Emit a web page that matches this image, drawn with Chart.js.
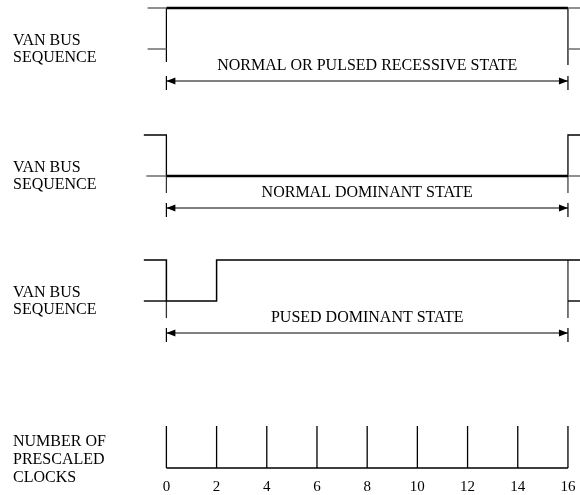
<!DOCTYPE html>
<html>
<head>
<meta charset="utf-8">
<script src="https://cdn.jsdelivr.net/npm/chart.js@4"></script>
<style>
  body { margin: 0; background: #fff; }
  #wrap { width: 580px; height: 495px; }
</style>
</head>
<body>
<div id="wrap"><canvas id="busChart"></canvas></div>
<script>
// clock axis
const clockTicks = [0, 2, 4, 6, 8, 10, 12, 14, 16];

// row labels and state names
const rowLabels = [["VAN BUS", "SEQUENCE"], ["VAN BUS", "SEQUENCE"], ["VAN BUS", "SEQUENCE"]];
const clockLabel = ["NUMBER OF", "PRESCALED", "CLOCKS"];
const stateLabels = ["NORMAL OR PULSED RECESSIVE STATE", "NORMAL DOMINANT STATE", "PUSED DOMINANT STATE"];

// waveforms: time (in prescaled clocks) and level (1 = high, 0 = low)
const recessiveTimes = [0, 16];
const recessiveLevels = [1, 1];
const dominantTimes = [-0.9, 0, 16, 16.5];
const dominantLevels = [1, 0, 1, 1];
const pulsedTimes = [-0.9, 0, 2, 16.5];
const pulsedLevels = [1, 0, 1, 1];

// state window
const stateStart = 0;
const stateEnd = 16;

// layout (y in pixel-like units)
const rowLow = [49, 176, 301];
const amp = 41;
const clockBase = 468;
const clockHeight = 42;
const axisHeight = 25;
const FONT = "Liberation Serif";

function lvl(row, level) { return rowLow[row] - level * amp; }

function wavePoints(row, times, levels) {
  return times.map((t, i) => ({ x: t, y: lvl(row, levels[i]) }));
}

function seg(x0, y0, x1, y1) { return [{ x: x0, y: y0 }, { x: x1, y: y1 }, { x: null, y: null }]; }

const datasets = [];
function addLine(data, color, width, stepped) {
  datasets.push({ data: data, borderColor: color, borderWidth: width, stepped: stepped || false,
    pointRadius: 0, spanGaps: false, fill: false, tension: 0 });
}

// row 1 : recessive (don't-care stubs on both sides)
let stubs1 = [];
[1, 0].forEach(l => {
  stubs1 = stubs1.concat(seg(-0.75, lvl(0, l), stateStart, lvl(0, l)), seg(stateEnd, lvl(0, l), 16.5, lvl(0, l)));
});
addLine(stubs1, "#6e6e6e", 1.5);
addLine(wavePoints(0, recessiveTimes, recessiveLevels), "#000", 2.5);
addLine(seg(stateStart, lvl(0, 1), stateStart, rowLow[0] + 13).concat(seg(stateEnd, lvl(0, 1), stateEnd, rowLow[0] + 16)), "#000", 1.2);

// row 2 : dominant
addLine(seg(-0.8, lvl(1, 0), stateStart, lvl(1, 0)).concat(seg(stateEnd, lvl(1, 0), 16.5, lvl(1, 0))), "#6e6e6e", 1.5);
addLine(wavePoints(1, dominantTimes, dominantLevels), "#000", 1.3, "before");
addLine(seg(stateStart, lvl(1, 0), stateEnd, lvl(1, 0)), "#000", 2.5);
addLine(seg(stateStart, lvl(1, 0), stateStart, rowLow[1] + 17).concat(seg(stateEnd, lvl(1, 0), stateEnd, rowLow[1] + 17)), "#333", 1.2);

// row 3 : pulsed dominant
addLine(seg(-0.9, lvl(2, 0), stateStart, lvl(2, 0)).concat(seg(stateEnd, lvl(2, 0), 16.5, lvl(2, 0))), "#111", 1.3);
addLine(wavePoints(2, pulsedTimes, pulsedLevels), "#000", 1.5, "before");
addLine(seg(stateStart, lvl(2, 0), stateStart, rowLow[2] + 17).concat(seg(stateEnd, lvl(2, 1), stateEnd, rowLow[2] + 17)), "#333", 1.3);

// arrows and their end markers
const arrowPts = [];
const markerPts = [];
rowLow.forEach((low, r) => {
  arrowPts.push(...seg(stateStart, low + 32, stateEnd, low + 32));
  markerPts.push(...seg(stateStart, low + 27, stateStart, low + 41), ...seg(stateEnd, low + 27, stateEnd, low + 41));
});
addLine(arrowPts, "#000", 1);
addLine(markerPts, "#000", 1.2);

// clocks
let clockPts = seg(clockTicks[0], clockBase, clockTicks[clockTicks.length - 1], clockBase);
clockTicks.forEach(t => { clockPts = clockPts.concat(seg(t, clockBase, t, clockBase - clockHeight)); });
addLine(clockPts, "#000", 1.3);

const annotate = {
  id: "annotate",
  afterDatasetsDraw(chart) {
    const ctx = chart.ctx;
    const xs = chart.scales.x, ys = chart.scales.y;
    ctx.save();
    ctx.fillStyle = "#000";
    ctx.font = "16px '" + FONT + "'";
    ctx.textBaseline = "middle";
    // arrowheads
    rowLow.forEach(low => {
      const y = ys.getPixelForValue(low + 32);
      [[stateStart, 1], [stateEnd, -1]].forEach(([t, dir]) => {
        const x = xs.getPixelForValue(t);
        ctx.beginPath();
        ctx.moveTo(x, y);
        ctx.lineTo(x + dir * 9, y - 3.5);
        ctx.lineTo(x + dir * 9, y + 3.5);
        ctx.closePath();
        ctx.fill();
      });
    });
    // state names
    ctx.textAlign = "center";
    stateLabels.forEach((s, r) => {
      ctx.fillText(s, xs.getPixelForValue((stateStart + stateEnd) / 2), ys.getPixelForValue(rowLow[r] + 17));
    });
    // row labels
    ctx.textAlign = "left";
    const left = chart.chartArea.left + 13;
    rowLabels.forEach((lines, r) => {
      lines.forEach((ln, i) => ctx.fillText(ln, left, ys.getPixelForValue(rowLow[r] - 8 + i * 17)));
    });
    clockLabel.forEach((ln, i) => ctx.fillText(ln, left, ys.getPixelForValue(442 + i * 18)));
    ctx.restore();
  }
};

new Chart("busChart", {
  type: "line",
  data: { datasets: datasets },
  options: {
    responsive: true,
    maintainAspectRatio: false,
    animation: false,
    layout: { padding: 0 },
    plugins: { legend: { display: false }, tooltip: { enabled: false } },
    scales: {
      x: {
        type: "linear",
        min: -6.63,
        max: 16.48,
        grid: { display: false, drawTicks: false },
        border: { display: false },
        afterBuildTicks: scale => { scale.ticks = clockTicks.map(v => ({ value: v })); },
        afterFit: scale => { scale.height = axisHeight; scale.paddingLeft = 0; scale.paddingRight = 0; },
        ticks: { color: "#000", font: { family: FONT, size: 15 }, padding: 8, maxRotation: 0, autoSkip: false }
      },
      y: { display: false, min: 0, max: 495 - axisHeight, reverse: true }
    }
  },
  plugins: [annotate]
});
</script>
</body>
</html>
